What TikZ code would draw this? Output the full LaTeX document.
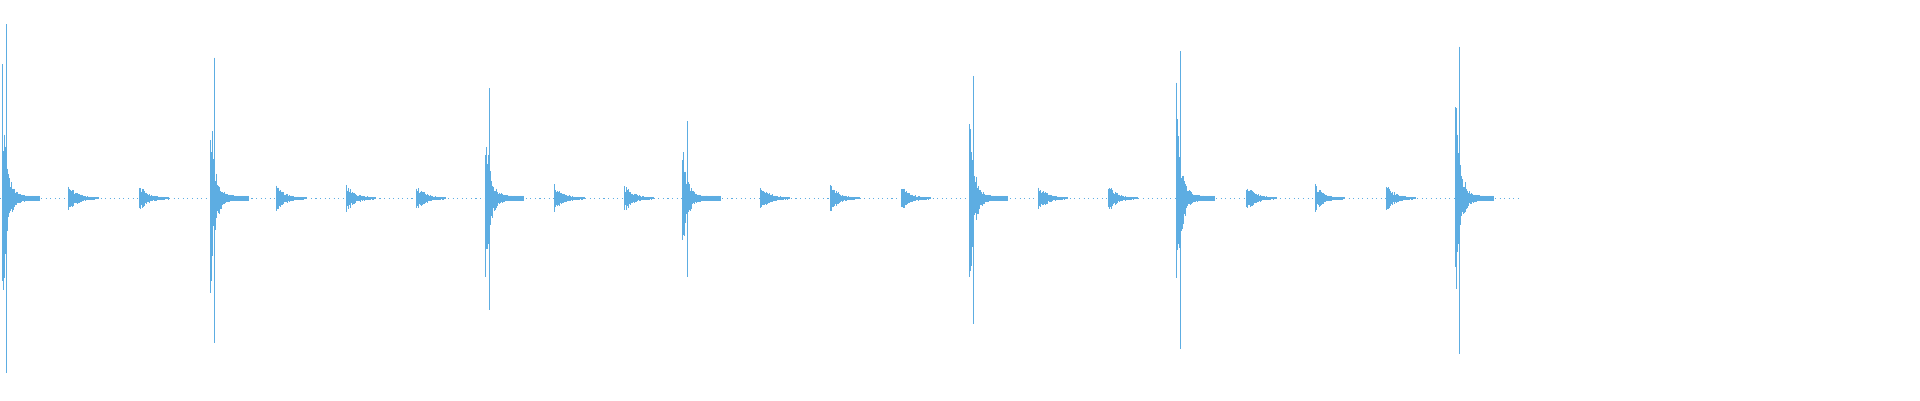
\documentclass[tikz,border=0pt]{standalone}
\usepackage{tikz}
\definecolor{wave}{RGB}{93,173,226}

% big hit: x, top, bottom (in screen px)
\newcommand{\beathi}[3]{%
  \draw[sig] (#1,#2)--(#1,#3);
  \foreach \i in {1,...,45}{%
    \pgfmathsetmacro{\amp}{(162-#2)*exp(-\i/5)*(0.4+0.6*rnd)+2}%
    \pgfmathsetmacro{\amq}{(#3-162)*exp(-\i/5)*(0.4+0.6*rnd)+2}%
    \draw[sig] ({#1+\i*0.7-4},{162-\amp})--({#1+\i*0.7-4},{162+\amq});
  }%
}
% small beat: x
\newcommand{\beatlo}[1]{%
  \foreach \i in {0,...,30}{%
    \pgfmathsetmacro{\amp}{11*exp(-\i/9)*(0.5+0.5*rnd)+0.5}%
    \draw[sig] ({#1+\i*0.8-4},{162-\amp})--({#1+\i*0.8-4},{162+\amp});
  }%
}

\begin{document}
\begin{tikzpicture}[
    x=0.012245cm, y=-0.012245cm,
    sig/.style={wave,line width=0.25pt}
  ]
  \pgfmathsetseed{7}
  \useasboundingbox (0,0) rectangle (1568,327);

  % baseline
  \draw[wave,line width=0.3pt,densely dotted] (0,162)--(1242,162);

  % strong beats
  \beathi{5}{20}{305}
  \beathi{175}{47}{280}
  \beathi{400}{72}{253}
  \beathi{561}{99}{226}
  \beathi{795}{62}{265}
  \beathi{964}{42}{285}
  \beathi{1192}{38}{289}

  % weak beats
  \foreach \x in {60,118,230,287,344,457,514,625,682,740,852,909,1022,1078,1136}{
    \beatlo{\x}
  }
\end{tikzpicture}
\end{document}
